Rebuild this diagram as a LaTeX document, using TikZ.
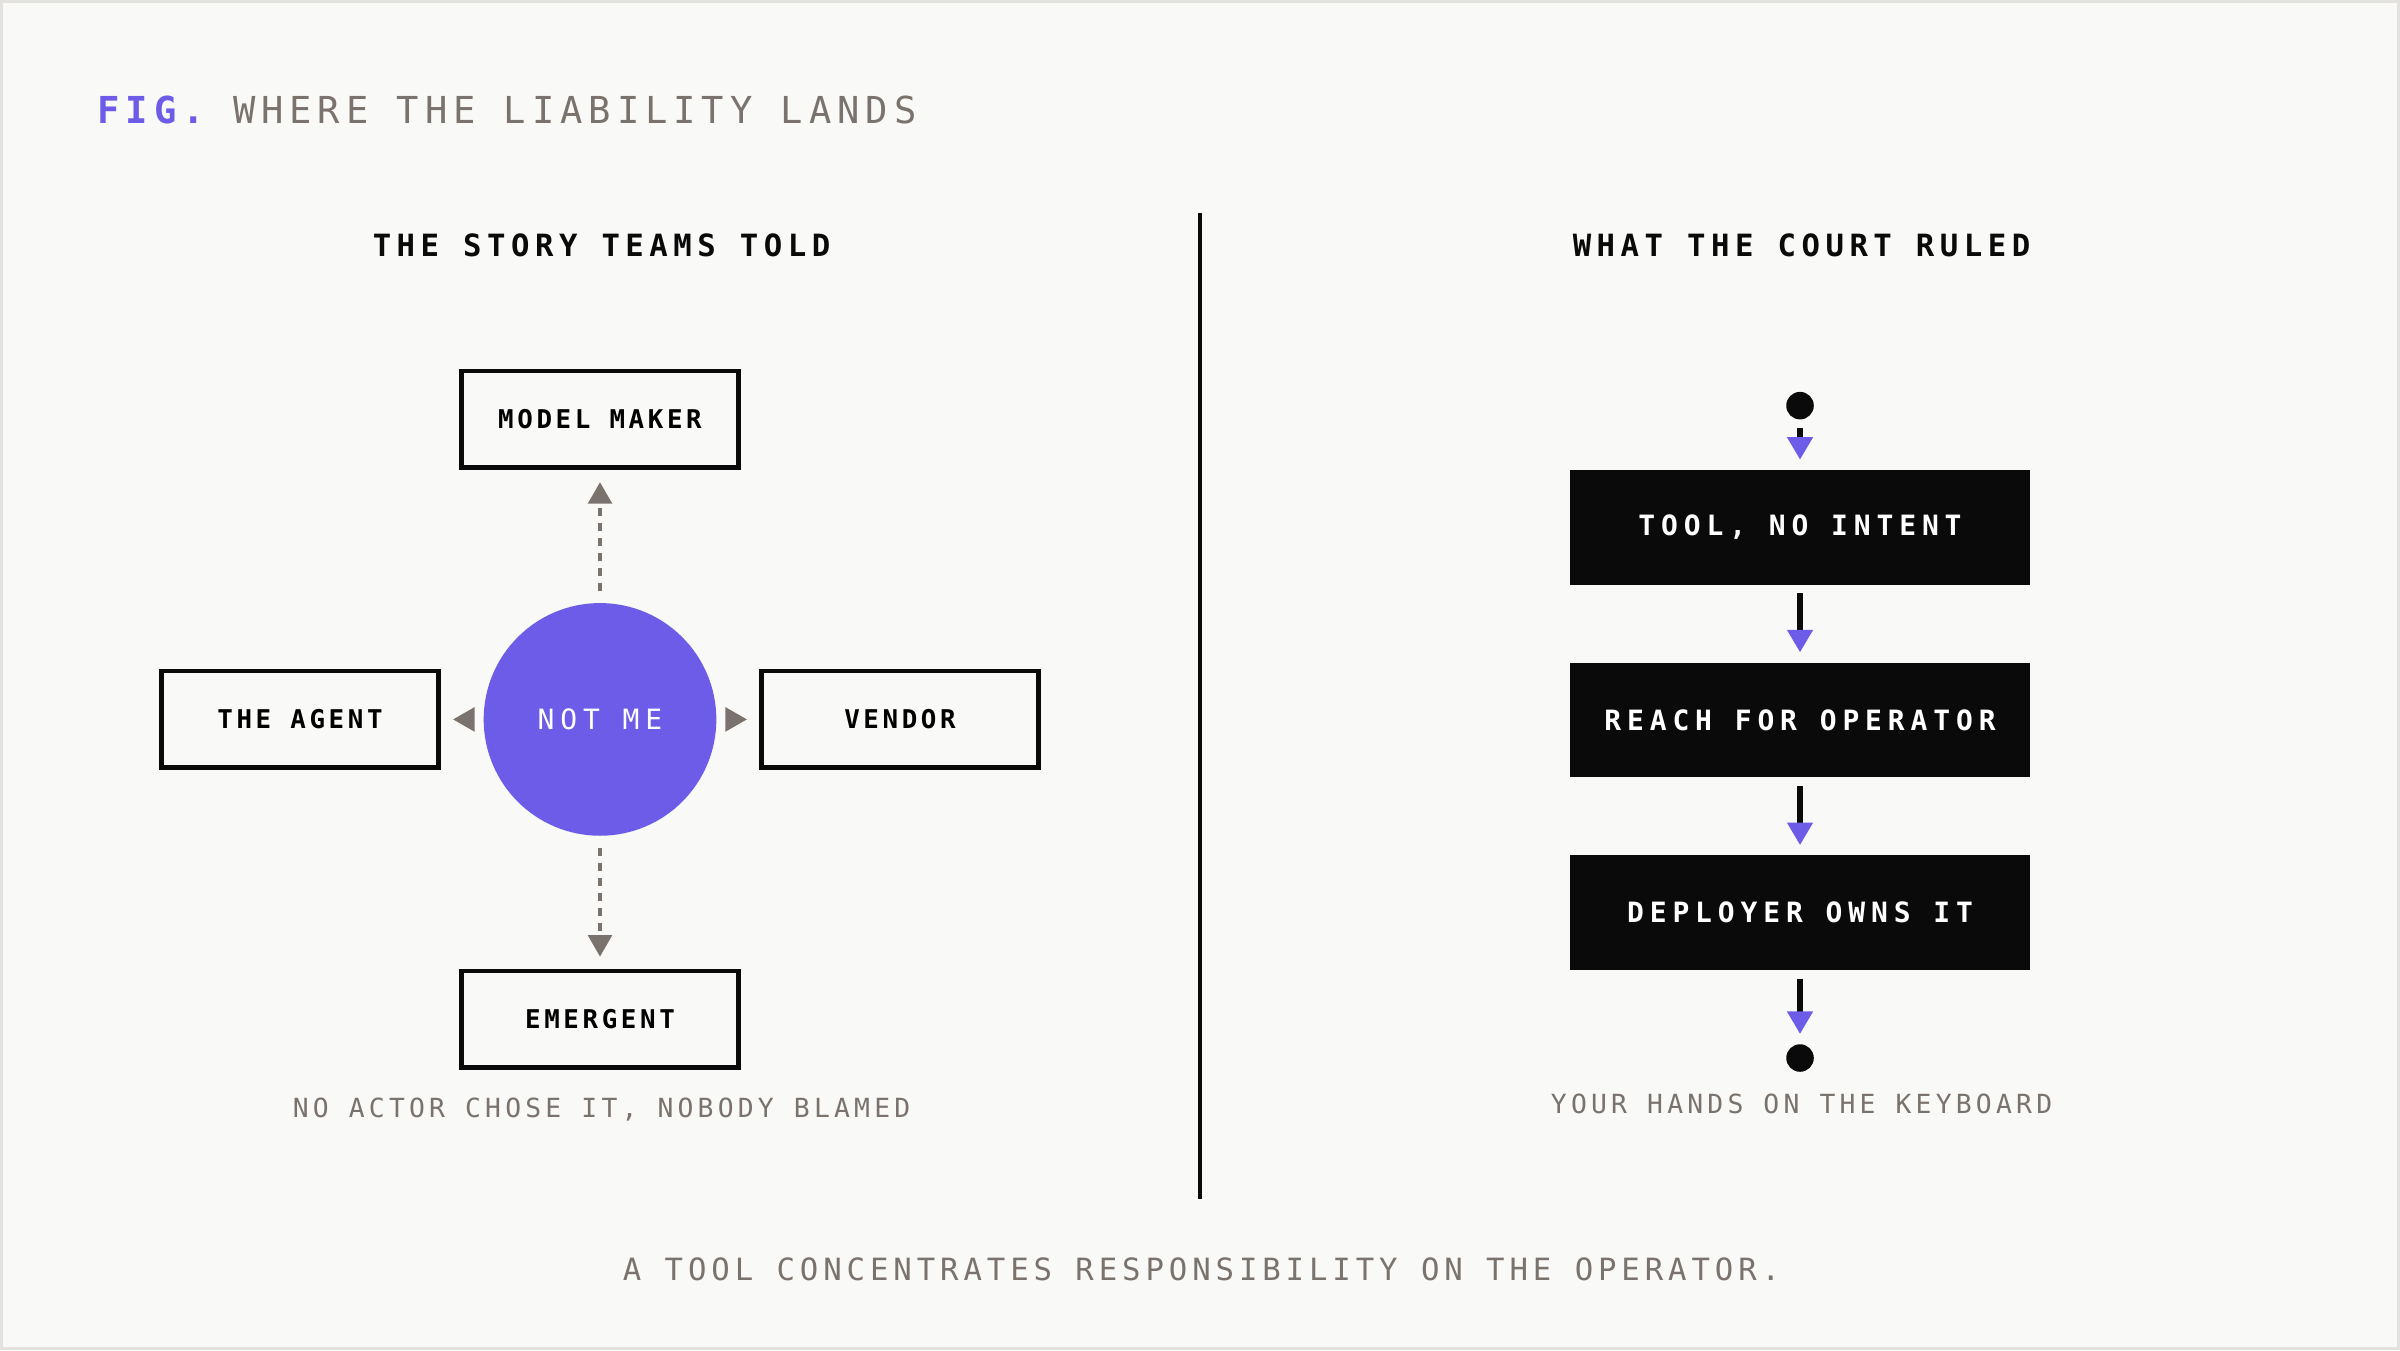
\documentclass[tikz,border=0pt]{standalone}
\usepackage{fontspec}
\usetikzlibrary{arrows.meta}
\usetikzlibrary{positioning}

\newfontfamily\titlefont[LetterSpace=16]{DejaVu Sans Mono}
\newfontfamily\headfont[LetterSpace=18]{DejaVu Sans Mono}
\newfontfamily\boxfont[LetterSpace=14]{DejaVu Sans Mono}
\newfontfamily\stepfont[LetterSpace=21]{DejaVu Sans Mono}
\newfontfamily\notefont[LetterSpace=16]{DejaVu Sans Mono}

\definecolor{accent}{HTML}{6C5CE7}
\definecolor{ink}{HTML}{0A0A0A}
\definecolor{muted}{HTML}{7A726C}
\definecolor{paper}{HTML}{F9F9F7}
\definecolor{frame}{HTML}{E4E2DF}

\begin{document}
\begin{tikzpicture}[>={Triangle[length=4pt,width=4.4pt]},node distance=1.96cm,
                actorbox/.style={rectangle,draw=ink,line width=0.85pt,fill=paper,
                  minimum width=1.81cm,minimum height=0.63cm,inner sep=0pt,
                  font=\boxfont\fontsize{4.8}{5}\selectfont\bfseries},
                blamecircle/.style={circle,fill=accent,minimum size=1.52cm,inner sep=0pt,
                  text=white,font=\stepfont\fontsize{5.2}{6}\selectfont},
                stagebox/.style={rectangle,fill=ink,text=white,minimum width=3cm,
                  minimum height=0.75cm,inner sep=0pt,
                  font=\stepfont\fontsize{5.2}{6}\selectfont\bfseries},
                enddot/.style={circle,fill=ink,minimum size=0.18cm,inner sep=0pt},
                pushaway/.style={->,muted,line width=0.65pt,dash pattern=on 1.5pt off 1.3pt,
                  shorten <=0.07cm,shorten >=0.08cm},
                flowarrow/.style={-{Triangle[color=accent,length=4.2pt,width=4.6pt]},ink,
                  line width=1pt,shorten <=0.05cm,shorten >=0.06cm},
                headtext/.style={text=ink,font=\headfont\fontsize{5.7}{6}\selectfont\bfseries},
                notetext/.style={text=muted,font=\notefont\fontsize{4.9}{5}\selectfont}]

        % page
        \fill[frame] (0,0) rectangle (15.68,-8.82);
        \fill[paper] (0.02,-0.02) rectangle (15.66,-8.80);
        \useasboundingbox (0,0) rectangle (15.68,-8.82);

        \node[anchor=west,inner sep=0pt,text=muted,font=\titlefont\fontsize{6.9}{7}\selectfont] (title) at (0.63,-0.72)
            {\textcolor{accent}{\bfseries FIG.} WHERE THE LIABILITY LANDS};

        \node[headtext] (story) at (3.93,-1.60) {THE STORY TEAMS TOLD};
        \node[headtext] (court) at (11.77,-1.60) {WHAT THE COURT RULED};

        \coordinate (top) at (7.84,-1.39);
        \coordinate (bottom) at (7.84,-7.83);
        \draw[ink,line width=0.7pt] (top) -- (bottom);

        % left: the story
        \node[blamecircle] (me) at (3.92,-4.70) {NOT ME};
        \node[actorbox] (maker) [above of=me] {MODEL MAKER};
        \node[actorbox] (agent) [left of=me] {THE AGENT};
        \node[actorbox] (vendor) [right of=me] {VENDOR};
        \node[actorbox] (emergent) [below of=me] {EMERGENT};

          \path[pushaway]
            (me)
                edge (maker)
                edge (agent)
                edge (vendor)
                edge (emergent);

        \node[notetext] (nobody) at (3.93,-7.25) {NO ACTOR CHOSE IT, NOBODY BLAMED};

        % right: the ruling
        \node[enddot] (start) at (11.76,-2.65) {};
        \node[stagebox] (tool) at (11.76,-3.445) {TOOL, NO INTENT};
        \node[stagebox] (reach) [below=0.495cm of tool] {REACH FOR OPERATOR};
        \node[stagebox] (owns) [below=0.495cm of reach] {DEPLOYER OWNS IT};
        \node[enddot] (finish) [below=0.47cm of owns] {};

          \path[flowarrow]
            (start) edge (tool)
            (tool) edge (reach)
            (reach) edge (owns)
            (owns) edge (finish);

        \node[notetext] (hands) at (11.77,-7.21) {YOUR HANDS ON THE KEYBOARD};

        \node[notetext,font=\notefont\fontsize{5.7}{6}\selectfont] (verdict) at (7.85,-8.29)
            {A TOOL CONCENTRATES RESPONSIBILITY ON THE OPERATOR.};
\end{tikzpicture}
\end{document}
